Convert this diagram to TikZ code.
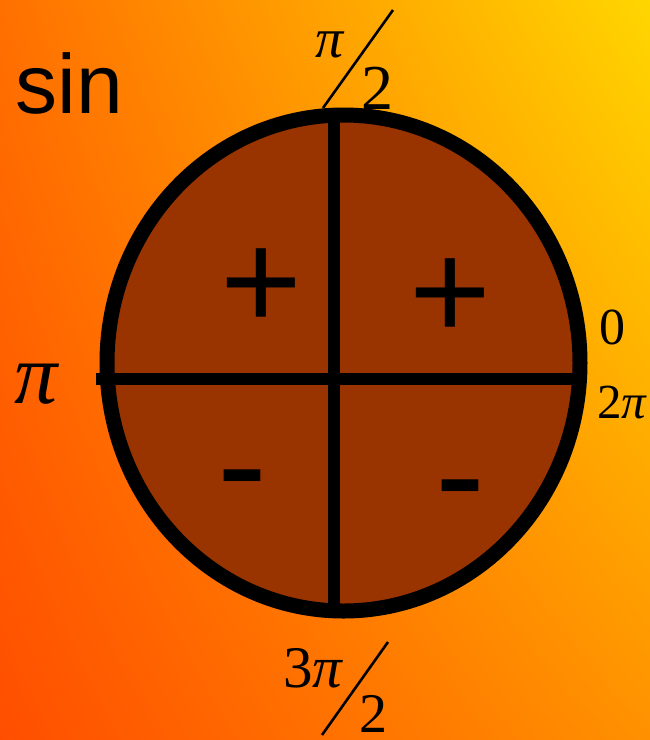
\documentclass[tikz,border=0pt]{standalone}
\usepackage{fontspec}
\usetikzlibrary{shapes.geometric,shadings}
\newfontfamily\arialf{Liberation Sans}
\newfontfamily\timesf{Liberation Serif}
\definecolor{bgtl}{RGB}{255,112,0}
\definecolor{bgtr}{RGB}{255,214,0}
\definecolor{bgbl}{RGB}{255,78,0}
\definecolor{bgbr}{RGB}{255,145,0}
\definecolor{quad}{RGB}{153,51,0}
\newcommand{\mypi}{{\itshape π}}
\begin{document}
\begin{tikzpicture}[x=1pt,y=-1pt]
\tikzset{
  lbl/.style={inner sep=0pt, outer sep=0pt, text=black},
  bar/.style={line width=12pt, draw=black},
  rim/.style={draw=black, line width=15pt, fill=quad, ellipse, inner sep=0pt,
              minimum width=473pt, minimum height=496pt},
  slash/.style={line width=2.6pt, draw=black}
}
\useasboundingbox (0,0) rectangle (650,740);
\shade[upper left=bgtl, upper right=bgtr, lower left=bgbl, lower right=bgbr] (0,0) rectangle (650,740);
% circle
\node[rim] (circ) at (343.5,363) {};
\coordinate (vt) at (334,113);
\coordinate (vb) at (334,612);
\coordinate (hl) at (96,378.5);
\coordinate (hr) at (580,378.5);
\draw[bar] (vt) -- (vb);
\draw[bar] (hl) -- (hr);
% signs
\node[lbl, font=\fontsize{140}{140}\selectfont\arialf, anchor=base] (p1) at (261,329) {+};
\node[lbl, font=\fontsize{140}{140}\selectfont\arialf, anchor=base] (p2) at (450,339) {+};
\node[lbl, font=\fontsize{150}{150}\selectfont\arialf, anchor=base] (m1) at (242,515) {-};
\node[lbl, font=\fontsize{150}{150}\selectfont\arialf, anchor=base] (m2) at (460,525) {-};
% sin
\node[lbl, font=\fontsize{84}{84}\selectfont\arialf, anchor=base west] (sin) at (16,113) {sin};
% pi/2 top
\node[lbl, font=\fontsize{56}{56}\selectfont\timesf] (tpi) at (330,45) {\mypi};
\node[lbl, font=\fontsize{64}{64}\selectfont\timesf] (ttwo) at (377,88) {2};
\coordinate (s1a) at (393,10);
\coordinate (s1b) at (323,108);
\draw[slash] (s1a) -- (s1b);
% 3pi/2 bottom
\node[lbl, font=\fontsize{59}{59}\selectfont\timesf] (bthree) at (313,668) {3\mypi};
\node[lbl, font=\fontsize{56}{56}\selectfont\timesf] (btwo) at (373,714) {2};
\coordinate (s2a) at (388,642);
\coordinate (s2b) at (322,735);
\draw[slash] (s2a) -- (s2b);
% left pi
\node[lbl, font=\fontsize{86}{86}\selectfont\timesf] (lpi) at (36,384) {\mypi};
% right 0 and 2pi
\node[lbl, font=\fontsize{52}{52}\selectfont\timesf] (rzero) at (612,327) {0};
\node[lbl, font=\fontsize{49}{49}\selectfont\timesf] (rtwopi) at (622,403) {2\mypi};
\end{tikzpicture}
\end{document}
